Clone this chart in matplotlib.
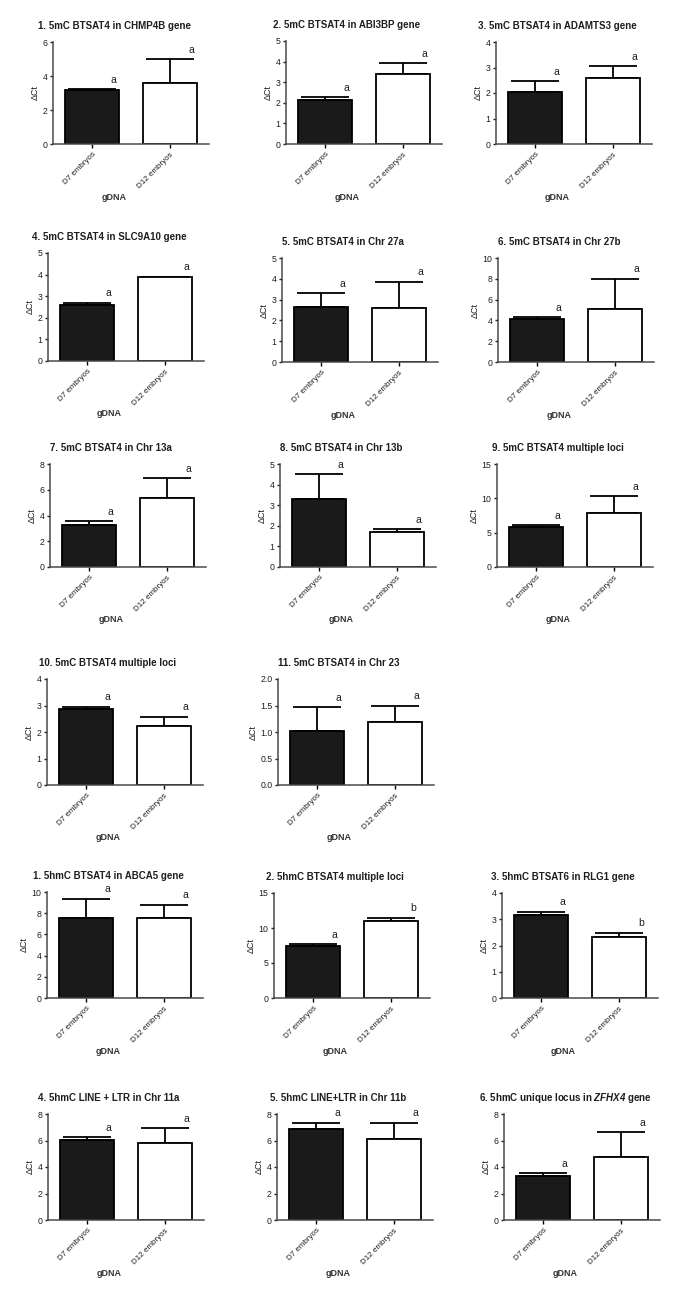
# Painel de gráficos de barras (ΔCt) - D7 vs D12 embryos
import numpy as np
import matplotlib
matplotlib.use('Agg')
import matplotlib.pyplot as plt

plt.rcParams['font.family'] = ['Liberation Sans', 'DejaVu Sans']
plt.rcParams['mathtext.fontset'] = 'custom'
plt.rcParams['mathtext.bf'] = 'Liberation Sans:bold'
plt.rcParams['mathtext.it'] = 'Liberation Sans:italic'
plt.rcParams['mathtext.bfit'] = 'Liberation Sans:bold:italic'

# Dados
groups = ['D7 embryos', 'D12 embryos']
titles = [
    '1. 5mC BTSAT4 in CHMP4B gene',
    '2. 5mC BTSAT4 in ABI3BP gene',
    '3. 5mC BTSAT4 in ADAMTS3 gene',
    '4. 5mC BTSAT4 in SLC9A10 gene',
    '5. 5mC BTSAT4 in Chr 27a',
    '6. 5mC BTSAT4 in Chr 27b',
    '7. 5mC BTSAT4 in Chr 13a',
    '8. 5mC BTSAT4 in Chr 13b',
    '9. 5mC BTSAT4 multiple loci',
    '10. 5mC BTSAT4 multiple loci',
    '11. 5mC BTSAT4 in Chr 23',
    '1. 5hmC BTSAT4 in ABCA5 gene',
    '2. 5hmC BTSAT4 multiple loci',
    '3. 5hmC BTSAT6 in RLG1 gene',
    '4. 5hmC LINE + LTR in Chr 11a',
    '5. 5hmC LINE+LTR in Chr 11b',
    r'6. 5hmC unique locus in $\mathbfit{ZFHX4}$ gene',
]
d7_mean = [3.17, 2.15, 2.03, 2.58, 2.66, 4.10, 3.26, 3.29, 5.78, 2.86, 1.02,
           7.58, 7.43, 3.16, 6.02, 6.90, 3.32]
d7_sem = [0.05, 0.13, 0.44, 0.10, 0.64, 0.20, 0.28, 1.22, 0.33, 0.09, 0.45,
          1.76, 0.28, 0.13, 0.22, 0.43, 0.20]
d12_mean = [3.60, 3.38, 2.58, 3.90, 2.58, 5.13, 5.38, 1.68, 7.90, 2.23, 1.18,
            7.52, 11.00, 2.34, 5.84, 6.15, 4.78]
d12_sem = [1.40, 0.55, 0.46, 0.00, 1.28, 2.87, 1.50, 0.15, 2.43, 0.35, 0.31,
           1.25, 0.47, 0.15, 1.08, 1.20, 1.84]
d7_letter = ['a'] * 17
d12_letter = ['a', 'a', 'a', 'a', 'a', 'a', 'a', 'a', 'a', 'a', 'a',
              'a', 'b', 'b', 'a', 'a', 'a']
y_max = [6, 5, 4, 5, 5, 10, 8, 5, 15, 4, 2.0, 10, 15, 4, 8, 8, 8]
y_step = [2, 1, 1, 1, 1, 2, 2, 1, 5, 1, 0.5, 2, 5, 1, 2, 2, 2]

# Layout (pixels): eixo esquerdo, topo e base de cada painel
W, H = 685, 1295
ax_left = [53, 286, 496, 48, 282, 498, 50, 280, 497, 47, 278, 47, 274, 502, 48, 277, 504]
ax_top = [42, 41, 42, 253, 258, 258, 464, 464, 464, 679, 679, 892, 893, 893, 1114, 1114, 1114]
ax_bottom = [144, 144, 144, 361, 362, 362, 567, 567, 567, 785, 785, 998, 998, 998, 1220, 1220, 1220]
ax_width = 156

ink = '#1e1e1e'
spine = '#4a4a4a'

fig = plt.figure(figsize=(W / 100, H / 100), dpi=100)

for i in range(len(titles)):
    l, t, b = ax_left[i], ax_top[i], ax_bottom[i]
    ax = fig.add_axes([l / W, 1 - b / H, ax_width / W, (b - t) / H])
    means = [d7_mean[i], d12_mean[i]]
    sems = [d7_sem[i], d12_sem[i]]
    x = np.arange(2)
    ax.bar(x, means, width=0.68, color=['#1a1a1a', 'white'], edgecolor='black',
           linewidth=1.3, zorder=2)
    ax.errorbar(x, means, yerr=[[0, 0], sems], fmt='none', ecolor='black',
                elinewidth=1.3, capsize=17, capthick=1.3, zorder=1)
    for j, let in enumerate([d7_letter[i], d12_letter[i]]):
        ax.text(j + 0.28, means[j] + sems[j] + 0.09 * y_max[i], let,
                ha='center', va='center', fontsize=7.5, color=ink)

    ax.set_xlim(-0.5, 1.5)
    ax.set_ylim(0, y_max[i])
    ticks = np.arange(0, y_max[i] + y_step[i] / 2, y_step[i])
    ax.set_yticks(ticks)
    if y_step[i] < 1:
        ax.set_yticklabels([f'{v:.1f}' for v in ticks])
    else:
        ax.set_yticklabels([f'{v:.0f}' for v in ticks])
    ax.set_xticks(x)
    ax.set_xticklabels(groups, rotation=45, ha='right', rotation_mode='anchor',
                       fontsize=5.8, color=ink)
    ax.tick_params(axis='y', labelsize=6.3, colors=ink, length=2.5, width=1, pad=1.5)
    ax.tick_params(axis='x', length=3, width=1, pad=2)
    for s in ['top', 'right']:
        ax.spines[s].set_visible(False)
    for s in ['left', 'bottom']:
        ax.spines[s].set_color(spine)
        ax.spines[s].set_linewidth(1.1)
    ax.set_ylabel('ΔCt', fontsize=6.5, color=ink, labelpad=2)

    cx = (l + ax_width / 2 - 17) / W
    fig.text(cx, 1 - (t - 16) / H, titles[i], ha='center', va='center',
             fontsize=7, fontweight='bold', color=ink)
    fig.text(cx, 1 - (b + 53) / H, 'gDNA', ha='center', va='center',
             fontsize=6.5, fontweight='bold', color='#333333')

fig.savefig('out.png', dpi=100, facecolor='white')
